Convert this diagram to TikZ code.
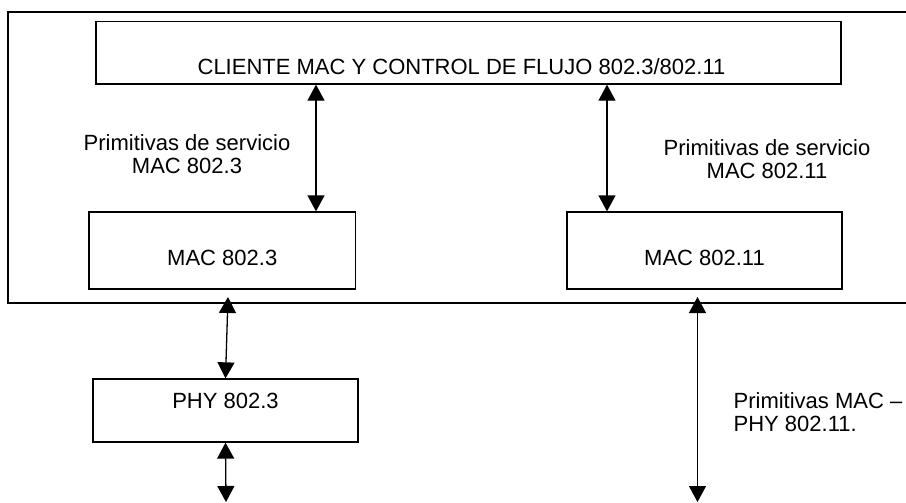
\documentclass[tikz,border=0pt]{standalone}
\usepackage{fontspec}
\setmainfont{Liberation Sans}
\usetikzlibrary{arrows.meta}
\begin{document}
\begin{tikzpicture}[x=0.5pt, y=-0.5pt, line width=0.65pt,
  txt/.style={font=\fontsize{11}{11.5}\selectfont},
  box/.style={txt, draw, rectangle, inner sep=0pt, anchor=base},
  lbl/.style={txt, inner sep=0pt, anchor=base},
  dbl/.style={{Triangle[length=8pt,width=8.5pt]}-{Triangle[length=8pt,width=8.5pt]}}]
\useasboundingbox (0,0) rectangle (906,503);
\fill[white] (0,0) rectangle (906,503);

% enclosing frame (runs off the right edge)
\draw (912,12) -| (8,303) -- (912,303);

% boxes: anchored on the text baseline, height/depth set the frame
\node[box, minimum width=372.5pt, text height=26.25pt, text depth=5pt]
  (top) at (468.5,74) {\hspace*{-7pt}CLIENTE MAC Y CONTROL DE FLUJO 802.3/802.11};
\node[box, minimum width=133.25pt, text height=26.5pt, text depth=12pt]
  (mac3) at (222.25,265) {MAC 802.3};
\node[box, minimum width=137.5pt, text height=26.5pt, text depth=12pt]
  (mac11) at (704.5,265) {MAC 802.11};
\node[box, minimum width=132.5pt, text height=14.5pt, text depth=17pt]
  (phy) at (225.5,408) {PHY 802.3};

% labels (base anchor sits on the last line)
\node[lbl, align=center] (l3) at (187,173) {Primitivas de servicio\\MAC 802.3};
\node[lbl, align=center] (l11) at (767,178) {Primitivas de servicio\\MAC 802.11};
\node[lbl, align=left, anchor=base west] (lphy) at (733,431) {Primitivas MAC \textendash\\PHY 802.11.};

% free ends of the lower connectors
\coordinate (macdown) at (228,297);
\coordinate (wdown) at (697.5,297);
\coordinate (phyend) at (226,502);
\coordinate (wend) at (697.5,502);

% connectors
\draw[dbl] (316,0 |- top.south) -- (316,0 |- mac3.north);
\draw[dbl] (607,0 |- top.south) -- (607,0 |- mac11.north);
\draw[dbl] (macdown) -- (phy.north);
\draw[dbl] (phy.south) -- (phyend);
\draw[dbl] (wdown) -- (wend);
\end{tikzpicture}
\end{document}
